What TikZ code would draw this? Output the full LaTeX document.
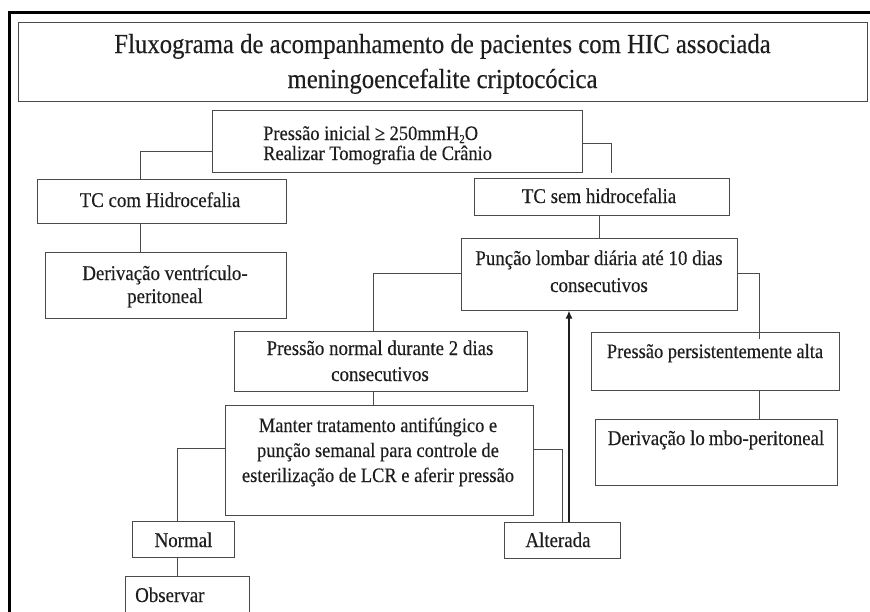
\documentclass[tikz,border=0pt]{standalone}
\usepackage{fontspec}
\setmainfont{Liberation Serif}[FakeStretch=0.9, FakeBold=0.25]
\usetikzlibrary{arrows.meta}
\definecolor{ink}{HTML}{1E1E1E}
\definecolor{edge}{HTML}{4A4A4A}
\begin{document}
\begin{tikzpicture}[x=1pt,y=-1pt,
  box/.style={draw=edge, line width=1pt, inner sep=0, rectangle},
  txt/.style={text=ink, inner sep=0, anchor=base, align=center, font=\fontsize{21}{25}\selectfont},
  conn/.style={draw=edge, line width=1pt},
  upline/.style={draw=ink, line width=1.8pt, -{Latex[length=8pt,width=7pt]}}]
\fill[white] (0,0) rectangle (870,611);
\useasboundingbox (0,0) rectangle (870,611);
% outer frame
\draw[line width=3pt, black] (9.5,615) -- (9.5,12) -- (872,12);
% boxes
\node[box, minimum width=849, minimum height=79] (title) at (442.5,61.5) {};
\node[box, minimum width=370, minimum height=62] (pinit) at (397,141) {};
\node[box, minimum width=249, minimum height=44] (tccom) at (161.5,201) {};
\node[box, minimum width=241, minimum height=66] (dvp) at (165.5,285) {};
\node[box, minimum width=255, minimum height=37] (tcsem) at (601.5,196.5) {};
\node[box, minimum width=276, minimum height=72] (puncao) at (599,274) {};
\node[box, minimum width=293, minimum height=60] (pnormal) at (380.5,361) {};
\node[box, minimum width=308, minimum height=110] (manter) at (379,460) {};
\node[box, minimum width=248, minimum height=58] (ppers) at (715,361) {};
\node[box, minimum width=242, minimum height=66] (dlp) at (716,452) {};
\node[box, minimum width=102, minimum height=36] (normal) at (183,539) {};
\node[box, minimum width=116, minimum height=36] (alterada) at (562,540) {};
\node[box, minimum width=124, minimum height=50] (observar) at (187,601) {};
% texts (base anchor = baseline of the last line)
\node[txt, font=\fontsize{27.5}{35}\selectfont] (ttitle) at (442.5,88) {Fluxograma de acompanhamento de pacientes com HIC associada\\meningoencefalite criptocócica};
\node[txt, align=left, anchor=base west, font=\fontsize{20.5}{20}\selectfont] (tpinit) at (263,160) {Pressão inicial ≥ 250mmH\raisebox{-3pt}{\fontsize{12}{12}\selectfont 2}O\\Realizar Tomografia de Crânio};
\node[txt] (ttccom) at (160,207) {TC com Hidrocefalia};
\node[txt, font=\fontsize{21}{23}\selectfont] (tdvp) at (165,303) {Derivação ventrículo-\\peritoneal};
\node[txt] (ttcsem) at (599,203) {TC sem hidrocefalia};
\node[txt, font=\fontsize{21}{27}\selectfont] (tpuncao) at (599,292) {Punção lombar diária até 10 dias\\consecutivos};
\node[txt, font=\fontsize{21}{26}\selectfont] (tpnormal) at (380,381) {Pressão normal durante 2 dias\\consecutivos};
\node[txt, font=\fontsize{20.5}{25}\selectfont] (tmanter) at (378,482) {Manter tratamento antifúngico e\\punção semanal para controle de\\esterilização de LCR e aferir pressão};
\node[txt, font=\fontsize{20.5}{25}\selectfont] (tppers) at (715,358) {Pressão persistentemente alta};
\node[txt] (tdlp) at (716,445) {Derivação lo\hspace{4pt}mbo-peritoneal};
\node[txt] (tnormal) at (183.5,547) {Normal};
\node[txt] (talterada) at (558,547) {Alterada};
\node[txt, anchor=base west] (tobservar) at (135,602) {Observar};
% connectors
\draw[conn] (pinit.west |- 0,151) -| (140,0 |- tccom.north);
\draw[conn] (140,0 |- tccom.south) -- (140,0 |- dvp.north);
\draw[conn] (pinit.east |- 0,143) -| ([yshift=5pt]611,0 |- tcsem.north);
\draw[conn] (599,0 |- tcsem.south) -- (599,0 |- puncao.north);
\draw[conn] (puncao.west |- 0,273) -| (373,0 |- pnormal.north);
\draw[conn] (puncao.east |- 0,273) -| ([yshift=-7pt]759,0 |- ppers.north);
\draw[conn] (759,0 |- ppers.south) -- (759,0 |- dlp.north);
\draw[conn] (373,0 |- pnormal.south) -- (373,0 |- manter.north);
\draw[conn] (manter.west |- 0,448) -| (177,0 |- normal.north);
\draw[conn] (177,0 |- normal.south) -- (177,0 |- observar.north);
\draw[conn] (manter.east |- 0,449) -| (562,0 |- alterada.north);
\draw[upline] (569,0 |- alterada.north) -- (569,0 |- puncao.south);
\end{tikzpicture}
\end{document}
